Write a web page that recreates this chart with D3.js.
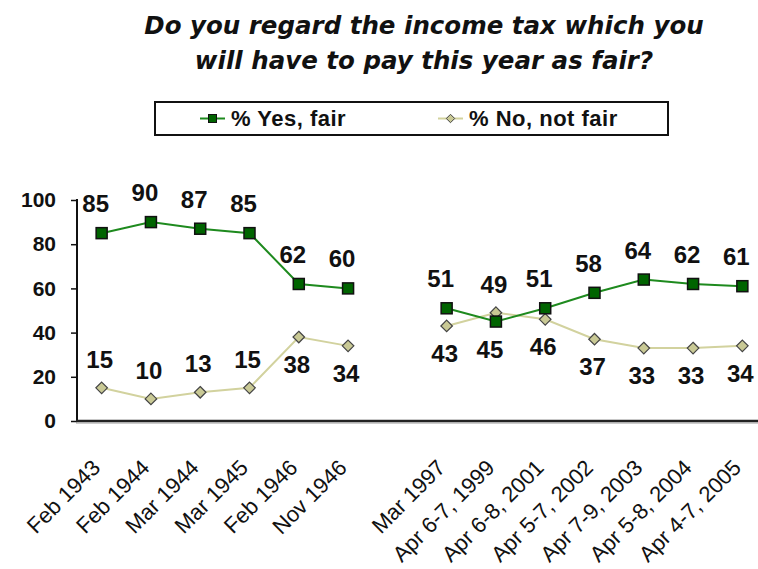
<!DOCTYPE html>
<html>
<head>
<meta charset="utf-8">
<script src="https://cdn.jsdelivr.net/npm/d3@7"></script>
<style>
  html, body { margin: 0; padding: 0; background: #fff; }
  svg { display: block; }
</style>
</head>
<body>
<svg id="chart" width="758" height="569"></svg>
<script>
// ---- data ----
const categories = ["Feb 1943","Feb 1944","Mar 1944","Mar 1945","Feb 1946","Nov 1946","",
  "Mar 1997","Apr 6-7, 1999","Apr 6-8, 2001","Apr 5-7, 2002","Apr 7-9, 2003","Apr 5-8, 2004","Apr 4-7, 2005"];
const yesFair = [85, 90, 87, 85, 62, 60, null, 51, 45, 51, 58, 64, 62, 61];
const noNotFair = [15, 10, 13, 15, 38, 34, null, 43, 49, 46, 37, 33, 33, 34];
const yTicks = [0, 20, 40, 60, 80, 100];
const titleLines = ["Do you regard the income tax which you", "will have to pay this year as fair?"];
const seriesNames = ["% Yes, fair", "% No, not fair"];

// ---- styles ----
const yesLine = "#1e8a1e", yesFill = "#006400";
const noLine = "#d2d29e", noFill = "#c9c995";

const svg = d3.select("#chart");

const x = d3.scaleBand().domain(d3.range(categories.length)).range([77, 767]);
const y = d3.scaleLinear().domain([0, 100]).range([421, 200]);
const cx = i => x(i) + x.bandwidth() / 2;

// title
svg.append("g").selectAll("text").data(titleLines).join("text")
  .attr("x", 424).attr("y", (d, i) => 34 + i * 35)
  .attr("text-anchor", "middle")
  .style("font-family", "'DejaVu Sans', sans-serif")
  .style("font-weight", "bold").style("font-style", "italic")
  .style("font-size", "24.5px").attr("fill", "#111")
  .text(d => d);

// legend
const lg = svg.append("g");
lg.append("rect").attr("x", 155).attr("y", 102).attr("width", 513).attr("height", 33)
  .attr("fill", "#fff").attr("stroke", "#111").attr("stroke-width", 2);
const legendItems = [
  {name: seriesNames[0], x0: 200, line: yesLine, fill: yesFill, shape: "square"},
  {name: seriesNames[1], x0: 438, line: noLine, fill: noFill, shape: "diamond"}
];
legendItems.forEach(it => {
  lg.append("line").attr("x1", it.x0).attr("x2", it.x0 + 25).attr("y1", 118.5).attr("y2", 118.5)
    .attr("stroke", it.line).attr("stroke-width", 2);
  if (it.shape === "square") {
    lg.append("rect").attr("x", it.x0 + 8.5).attr("y", 114.5).attr("width", 8).attr("height", 8)
      .attr("fill", it.fill).attr("stroke", "#111").attr("stroke-width", 1);
  } else {
    lg.append("path").attr("d", d3.symbol(d3.symbolDiamond2, 45)())
      .attr("transform", `translate(${it.x0 + 12.5},118.5)`)
      .attr("fill", it.fill).attr("stroke", "#444").attr("stroke-width", 1);
  }
  lg.append("text").attr("x", it.x0 + 31).attr("y", 126)
    .style("font-family", "'Liberation Sans', Arial, sans-serif")
    .style("font-weight", "bold").style("font-size", "22px").style("letter-spacing", "0.5px")
    .attr("fill", "#111").text(it.name);
});

// y axis
const yAxis = svg.append("g").attr("transform", "translate(77,0)")
  .call(d3.axisLeft(y).tickValues(yTicks).tickSize(6).tickPadding(15));
yAxis.select(".domain").attr("stroke", "#111").attr("stroke-width", 2).attr("d", "M0,199V422");
yAxis.selectAll(".tick line").attr("stroke", "#111").attr("stroke-width", 1.5);
yAxis.selectAll(".tick text")
  .style("font-family", "'Liberation Sans', Arial, sans-serif")
  .style("font-weight", "bold").style("font-size", "21px").attr("fill", "#111");

// x axis
const xAxis = svg.append("g").attr("transform", "translate(0,421)")
  .call(d3.axisBottom(x).tickSize(0).tickFormat(""));
xAxis.select(".domain").attr("stroke", "#222").attr("stroke-width", 2.5).attr("d", "M76,0H767");
xAxis.append("line").attr("x1", 76).attr("x2", 767).attr("y1", 2).attr("y2", 2)
  .attr("stroke", "#999").attr("stroke-width", 1);

svg.append("g").selectAll("text").data(categories).join("text")
  .attr("transform", (d, i) => `translate(${cx(i)},469) rotate(-45)`)
  .attr("text-anchor", "end")
  .style("font-family", "'Liberation Sans', Arial, sans-serif")
  .style("font-size", "22px").attr("fill", "#111")
  .text(d => d);

// lines
const lineGen = d3.line().defined(d => d.v != null).x(d => cx(d.i)).y(d => y(d.v));
const yesData = yesFair.map((v, i) => ({v, i}));
const noData = noNotFair.map((v, i) => ({v, i}));

svg.append("path").datum(noData).attr("d", lineGen)
  .attr("fill", "none").attr("stroke", noLine).attr("stroke-width", 2);
svg.append("path").datum(yesData).attr("d", lineGen)
  .attr("fill", "none").attr("stroke", yesLine).attr("stroke-width", 2);

// markers
svg.append("g").selectAll("path").data(noData.filter(d => d.v != null)).join("path")
  .attr("d", d3.symbol(d3.symbolDiamond2, 85)())
  .attr("transform", d => `translate(${cx(d.i)},${y(d.v)})`)
  .attr("fill", noFill).attr("stroke", "#444").attr("stroke-width", 1.2);
svg.append("g").selectAll("rect").data(yesData.filter(d => d.v != null)).join("rect")
  .attr("x", d => cx(d.i) - 5.5).attr("y", d => y(d.v) - 5.5)
  .attr("width", 11).attr("height", 11)
  .attr("fill", yesFill).attr("stroke", "#111").attr("stroke-width", 1.5);

// data labels
const labelFont = sel => sel
  .style("font-family", "'Liberation Sans', Arial, sans-serif")
  .style("font-weight", "bold").style("font-size", "24px")
  .attr("text-anchor", "middle").attr("fill", "#111");

svg.append("g").selectAll("text").data(yesData.filter(d => d.v != null)).join("text")
  .attr("x", d => cx(d.i) - 6)
  .attr("y", d => noNotFair[d.i] > d.v ? y(d.v) + 36 : y(d.v) - 21)
  .call(labelFont).text(d => d.v);

svg.append("g").selectAll("text").data(noData.filter(d => d.v != null)).join("text")
  .attr("x", d => cx(d.i) - 2)
  .attr("y", d => (d.v < 20 || d.v > yesFair[d.i]) ? y(d.v) - 20 : y(d.v) + 36)
  .call(labelFont).text(d => d.v);
</script>
</body>
</html>
